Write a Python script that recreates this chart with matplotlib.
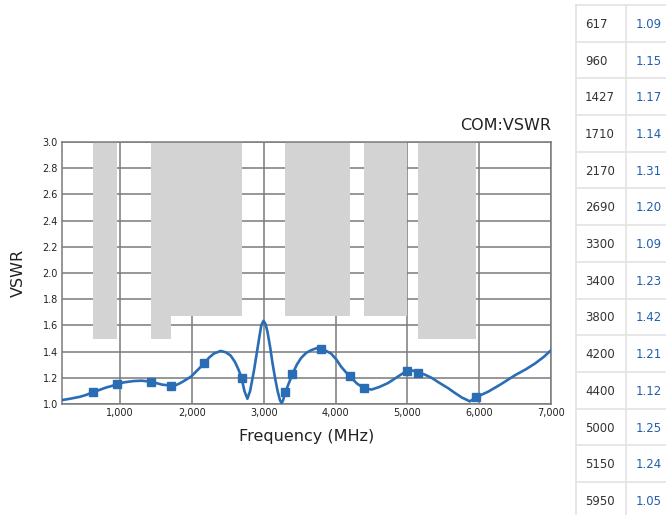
import matplotlib
matplotlib.use("Agg")
import matplotlib.pyplot as plt
from matplotlib.ticker import FuncFormatter, MultipleLocator

# Marker points (table values)
freqs = [617, 960, 1427, 1710, 2170, 2690, 3300, 3400, 3800, 4200, 4400, 5000, 5150, 5950]
vswr = [1.09, 1.15, 1.17, 1.14, 1.31, 1.20, 1.09, 1.23, 1.42, 1.21, 1.12, 1.25, 1.24, 1.05]

curve_f = [190, 300, 440, 530, 617, 700, 800, 930, 1050, 1186, 1300, 1427, 1500, 1583, 1710,
           1780, 1839, 1900, 1989, 2080, 2170, 2240, 2305, 2400, 2470, 2538, 2600, 2650, 2690,
           2730, 2772, 2810, 2865, 2900, 2935, 2965, 2996, 3025, 3052, 3090, 3122, 3160, 3192,
           3225, 3248, 3270, 3300, 3350, 3400, 3460, 3518, 3590, 3657, 3730, 3800, 3870, 3937,
           4010, 4077, 4140, 4200, 4300, 4400, 4500, 4610, 4730, 4870, 4940, 5000, 5075, 5150,
           5240, 5336, 5450, 5570, 5660, 5757, 5871, 5950, 6030, 6128, 6300, 6500, 6650, 6780,
           6900, 7000]
curve_v = [1.03, 1.04, 1.055, 1.07, 1.09, 1.105, 1.125, 1.145, 1.165, 1.175, 1.178, 1.17, 1.16,
           1.148, 1.14, 1.145, 1.16, 1.18, 1.21, 1.26, 1.31, 1.355, 1.385, 1.405, 1.395, 1.37,
           1.32, 1.26, 1.20, 1.10, 1.04, 1.10, 1.26, 1.38, 1.50, 1.60, 1.635, 1.61, 1.55, 1.43,
           1.31, 1.19, 1.10, 1.03, 1.005, 1.03, 1.09, 1.16, 1.23, 1.30, 1.35, 1.39, 1.41, 1.425,
           1.42, 1.405, 1.385, 1.34, 1.285, 1.245, 1.21, 1.155, 1.12, 1.11, 1.13, 1.16, 1.21, 1.235,
           1.25, 1.255, 1.24, 1.225, 1.20, 1.16, 1.12, 1.085, 1.05, 1.02, 1.05, 1.07, 1.095, 1.15,
           1.22, 1.265, 1.31, 1.36, 1.41]

# Grey spec bands: (start MHz, end MHz, lower VSWR limit)
band_start = [617, 1427, 1710, 3300, 4400, 5150]
band_end = [960, 1710, 2690, 4200, 5000, 5950]
band_floor = [1.5, 1.5, 1.67, 1.67, 1.67, 1.5]

blue = "#2a6db5"
grid_c = "#7a7a7a"

fig = plt.figure(figsize=(6.66, 5.15), dpi=100)
ax = fig.add_axes([62 / 666, 1 - 404 / 515, (551 - 62) / 666, (404 - 142) / 515])

ax.set_xlim(190, 7000)
ax.set_ylim(1.0, 3.0)
ax.xaxis.set_major_locator(MultipleLocator(1000))
ax.yaxis.set_major_locator(MultipleLocator(0.2))
ax.xaxis.set_major_formatter(FuncFormatter(lambda v, p: f"{int(v):,}"))
ax.yaxis.set_major_formatter(FuncFormatter(lambda v, p: f"{v:.1f}"))
ax.grid(True, color=grid_c, linewidth=1.1, zorder=0)
ax.set_axisbelow(True)
for s in ax.spines.values():
    s.set_color(grid_c)
    s.set_linewidth(1.1)
ax.tick_params(length=0, labelsize=7, colors="#222222", pad=3)

for s, e, f in zip(band_start, band_end, band_floor):
    ax.fill_between([s, e], [f, f], [3.0, 3.0], color="#d3d3d3", linewidth=0, zorder=1)

ax.plot(curve_f, curve_v, color=blue, linewidth=1.9, zorder=3, solid_joinstyle="round")
ax.plot(freqs, vswr, linestyle="none", marker="s", markersize=6, color=blue, zorder=4)

ax.set_xlabel("Frequency (MHz)", fontsize=11.5, color="#222222", labelpad=8)
ax.set_ylabel("VSWR", fontsize=11.5, color="#222222", labelpad=12)
ax.set_title("COM:VSWR", loc="right", fontsize=11.5, color="#222222", pad=9)

# Side table
row_h = 36.7
top0 = 5
col_x0, col_x1 = 576, 626
for i, (f, v) in enumerate(zip(freqs, vswr)):
    yc = top0 + row_h * (i + 0.5) + 1
    fig.text((col_x0 + 9) / 666, 1 - yc / 515, str(f), fontsize=8.5, color="#333333",
             ha="left", va="center")
    fig.text((col_x1 + 10) / 666, 1 - yc / 515, f"{v:.2f}", fontsize=8.5, color="#1f5fae",
             ha="left", va="center")
for i in range(len(freqs) + 1):
    y = top0 + row_h * i
    fig.add_artist(plt.Line2D([col_x0 / 666, 1], [1 - y / 515, 1 - y / 515],
                              color="#e3e3e3", linewidth=1.2, transform=fig.transFigure))
for x in (col_x0, col_x1):
    fig.add_artist(plt.Line2D([x / 666, x / 666], [0, 1 - top0 / 515],
                              color="#e3e3e3", linewidth=1.2, transform=fig.transFigure))

fig.savefig("out.png", dpi=100)
